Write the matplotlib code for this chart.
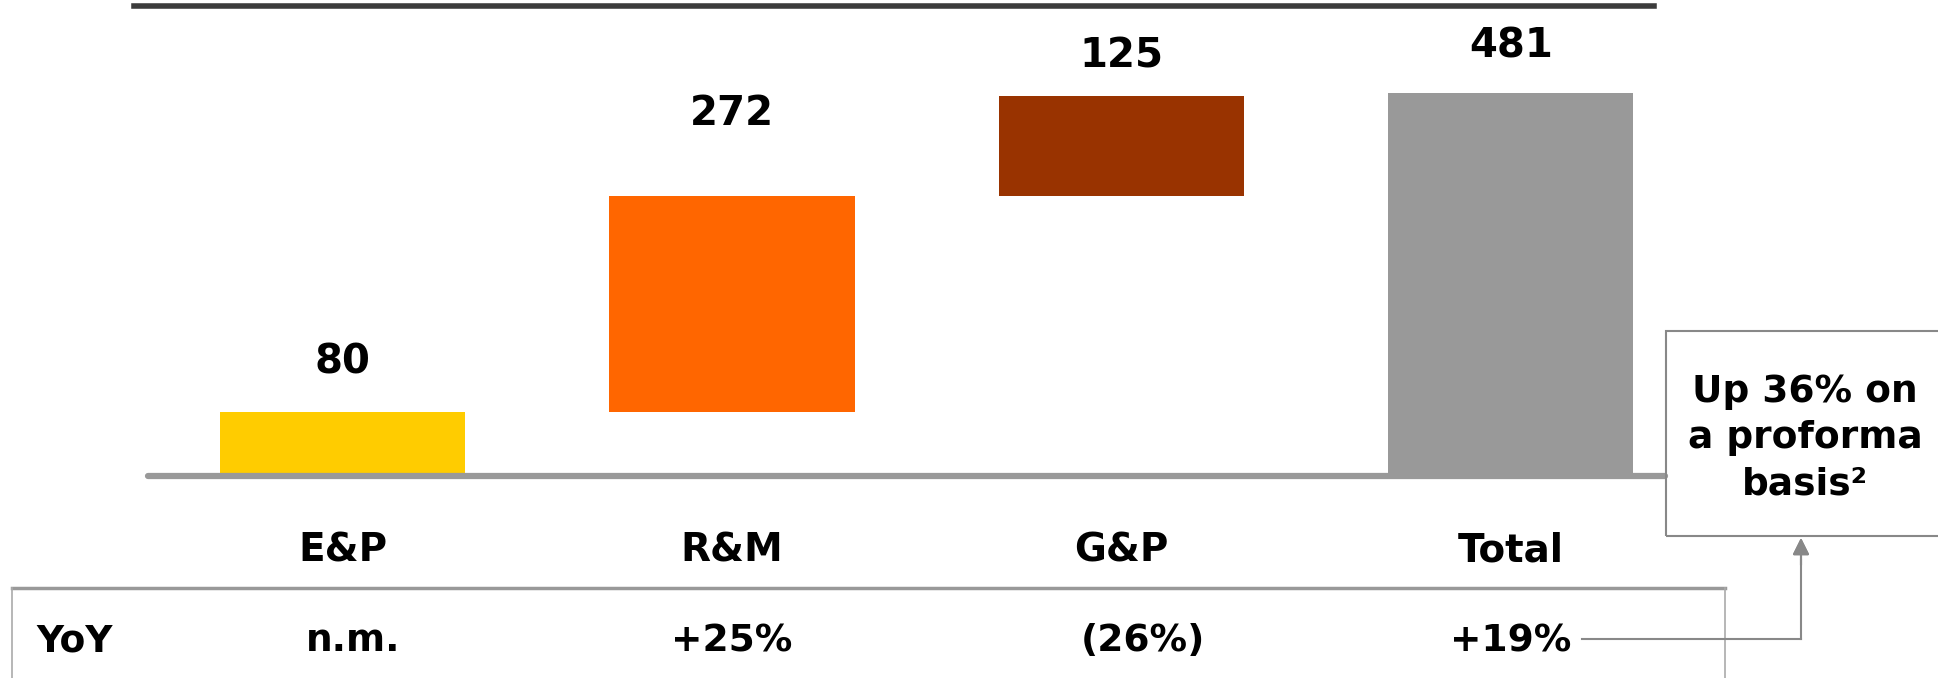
import matplotlib
matplotlib.use('Agg')
import matplotlib.pyplot as plt
from matplotlib.lines import Line2D
from matplotlib.patches import Rectangle
import matplotlib.transforms as mtransforms

# data
categories = ["E&P", "R&M", "G&P", "Total"]
values = [80, 272, 125, 481]
yoy_labels = ["n.m.", "+25%", "(26%)", "+19%"]
colors = ["#FFCC00", "#FF6600", "#993300", "#999999"]
label_pad = [50, 82, 40, 47]  # pixels between bar top and value label centre
yoy_nudge = [10, 0, 22, 0]    # small x shifts of the YoY texts, pixels

W, H = 1938, 678
fig = plt.figure(figsize=(W / 100, H / 100), dpi=100)
plt.rcParams['font.family'] = ['DejaVu Sans']


def fy(px):
    # pixel row from top -> figure fraction
    return 1 - px / H


def fx(px):
    return px / W


# chart axes: baseline at 476px, bars every ~389px
ax = fig.add_axes([fx(148), fy(476), fx(1665) - fx(148), fy(0) - fy(476)])
ax.set_xlim(-0.50, 3.396)
ax.set_ylim(0, 598)
ax.axis('off')

# waterfall bottoms
bottoms = []
running = 0
for i, v in enumerate(values):
    if i == len(values) - 1:
        bottoms.append(0)
    else:
        bottoms.append(running)
        running += v

xs = list(range(len(categories)))
ax.bar(xs, values, bottom=bottoms, width=0.63, color=colors, linewidth=0)

ax.axhline(0, color="#999999", lw=4.5, solid_capstyle='round', clip_on=False, zorder=3)

for x, v, b, pad in zip(xs, values, bottoms, label_pad):
    ax.annotate(str(v), (x, v + b), xytext=(0, pad), textcoords='offset pixels',
                ha='center', va='center', fontsize=29, fontweight='bold')

# category labels and YoY row, x in data, y in figure
trans = mtransforms.blended_transform_factory(ax.transData, fig.transFigure)
for x, c in zip(xs, categories):
    ax.text(x, fy(550), c, transform=trans, ha='center', va='center',
            fontsize=28, fontweight='bold')
for x, t, n in zip(xs, yoy_labels, yoy_nudge):
    ax.annotate(t, (x, fy(641)), xycoords=trans, xytext=(n, 0), textcoords='offset pixels',
                ha='center', va='center', fontsize=27, fontweight='bold')
fig.text(fx(75), fy(641), "YoY", ha='center', va='center', fontsize=27, fontweight='bold')

# top rule
fig.add_artist(Line2D([fx(134), fx(1654)], [fy(6), fy(6)], color="#3c3c3c", lw=4))

# table frame
fig.add_artist(Line2D([fx(12), fx(1725)], [fy(588), fy(588)], color="#999999", lw=2.5))
fig.add_artist(Line2D([fx(12), fx(12)], [fy(588), fy(678)], color="#aaaaaa", lw=1.2))
fig.add_artist(Line2D([fx(1725), fx(1725)], [fy(588), fy(678)], color="#aaaaaa", lw=1.2))

# callout box
fig.add_artist(Rectangle((fx(1666), fy(536)), fx(1945) - fx(1666), fy(331) - fy(536),
                         transform=fig.transFigure, fill=False, edgecolor="#888888", lw=1.5))
fig.text(fx(1805), fy(438), "Up 36% on\na proforma\nbasis\u00b2", ha='center', va='center',
         fontsize=27, fontweight='bold', linespacing=1.36)

# connector from +19% to callout
fig.add_artist(Line2D([fx(1582), fx(1801)], [fy(639), fy(639)], color="#888888", lw=1.5))
fig.add_artist(Line2D([fx(1801), fx(1801)], [fy(639), fy(560)], color="#888888", lw=1.5))
fig.add_artist(plt.annotate("", xy=(fx(1801), fy(538)), xytext=(fx(1801), fy(565)),
                            xycoords='figure fraction', textcoords='figure fraction',
                            arrowprops=dict(arrowstyle='-|>', color="#888888", lw=1.5,
                                            mutation_scale=25, shrinkA=0, shrinkB=0)))

fig.savefig("out.png", dpi=100)
